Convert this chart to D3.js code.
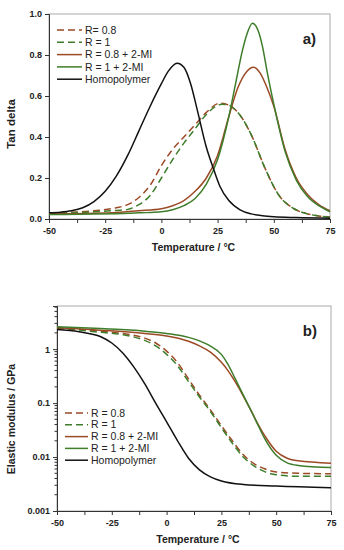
<!DOCTYPE html>
<html>
<head>
<meta charset="utf-8">
<script src="https://cdn.jsdelivr.net/npm/d3@7"></script>
<style>
  body { margin: 0; background: #fff; }
  svg { font-family: Arial, "Liberation Sans", sans-serif; }
</style>
</head>
<body>
<svg id="chart" width="344" height="550"></svg>
<script>
// ---- data ----
const names = ['R= 0.8', 'R = 1', 'R = 0.8 + 2-MI', 'R = 1 + 2-MI', 'Homopolymer'];
const namesB = ['R = 0.8', 'R = 1', 'R = 0.8 + 2-MI', 'R = 1 + 2-MI', 'Homopolymer'];
const xTicks = [-50, -25, 0, 25, 50, 75];
const tanTicks = [0.0, 0.2, 0.4, 0.6, 0.8, 1.0];
const modTicks = [0.001, 0.01, 0.1, 1];

// panel a) tan delta
const tanR08T = [-50, -40, -30, -20, -15, -10, -5, 0, 5, 10, 15, 20, 26, 30, 34, 40, 46, 52, 59, 65, 70, 75];
const tanR08 = [0.03, 0.033, 0.04, 0.055, 0.07, 0.105, 0.165, 0.26, 0.34, 0.4, 0.46, 0.52, 0.565, 0.555, 0.52, 0.41, 0.25, 0.12, 0.05, 0.025, 0.015, 0.01];
const tanR1T = [-50, -40, -30, -20, -15, -10, -5, 0, 5, 10, 15, 20, 27, 30, 34, 40, 46, 52, 59, 65, 70, 75];
const tanR1 = [0.028, 0.03, 0.035, 0.042, 0.047, 0.07, 0.115, 0.2, 0.29, 0.37, 0.44, 0.51, 0.56, 0.555, 0.52, 0.41, 0.25, 0.12, 0.05, 0.025, 0.015, 0.01];
const tanR08MIT = [-50, -30, -20, -10, 0, 5, 10, 15, 20, 25, 30, 34, 38, 41, 44, 47, 50, 55, 60, 65, 70, 75];
const tanR08MI = [0.025, 0.028, 0.032, 0.04, 0.05, 0.065, 0.09, 0.135, 0.2, 0.31, 0.5, 0.64, 0.72, 0.74, 0.71, 0.64, 0.55, 0.34, 0.2, 0.12, 0.07, 0.04];
const tanR1MIT = [-50, -30, -20, -10, 0, 5, 10, 15, 20, 25, 30, 33, 36, 38, 40.5, 43, 45, 47, 50, 55, 60, 65, 70, 75];
const tanR1MI = [0.022, 0.024, 0.026, 0.03, 0.035, 0.045, 0.065, 0.1, 0.17, 0.29, 0.5, 0.66, 0.82, 0.9, 0.955, 0.92, 0.84, 0.72, 0.56, 0.33, 0.19, 0.11, 0.065, 0.035];
const tanHomoT = [-50, -45, -40, -35, -30, -25, -20, -15, -10, -5, 0, 3, 7, 10, 13, 16, 20, 23, 26, 30, 35, 40, 45, 50, 60, 75];
const tanHomo = [0.03, 0.033, 0.04, 0.055, 0.085, 0.135, 0.21, 0.31, 0.43, 0.55, 0.66, 0.72, 0.76, 0.74, 0.66, 0.53, 0.35, 0.25, 0.16, 0.09, 0.045, 0.025, 0.016, 0.011, 0.007, 0.004];

// panel b) elastic modulus (GPa)
const modDashT = [-50, -40, -30, -20, -10, -5, 0, 5, 10, 15, 20, 25, 30, 35, 40, 45, 50, 60, 75];
const modR08 = [2.5, 2.3, 2.15, 1.95, 1.6, 1.3, 0.92, 0.56, 0.28, 0.14, 0.075, 0.038, 0.02, 0.011, 0.0075, 0.006, 0.0053, 0.005, 0.0049];
const modR1 = [2.45, 2.25, 2.05, 1.85, 1.45, 1.15, 0.8, 0.49, 0.25, 0.13, 0.07, 0.035, 0.018, 0.01, 0.0068, 0.0053, 0.0047, 0.0044, 0.0044];
const modSolidT = [-50, -30, -10, 0, 10, 15, 20, 25, 28, 31, 35, 38, 41, 45, 50, 55, 60, 75];
const modR08MI = [2.5, 2.25, 1.95, 1.75, 1.4, 1.15, 0.88, 0.57, 0.4, 0.26, 0.135, 0.08, 0.046, 0.024, 0.0128, 0.0095, 0.0085, 0.0077];
const modR1MI = [2.6, 2.4, 2.15, 1.95, 1.65, 1.42, 1.14, 0.8, 0.52, 0.3, 0.14, 0.08, 0.045, 0.021, 0.0108, 0.0078, 0.007, 0.0064];
const modHomoT = [-50, -40, -30, -25, -20, -15, -10, -5, 0, 5, 10, 15, 20, 25, 35, 50, 75];
const modHomo = [2.3, 2.1, 1.7, 1.3, 0.85, 0.47, 0.23, 0.1, 0.045, 0.02, 0.0095, 0.0058, 0.0043, 0.0036, 0.0031, 0.0029, 0.0027];

const brown = '#9c4a26', green = '#3e7d2a', black = '#111';
const styles = [
  { color: brown, dash: '7,4' },
  { color: green, dash: '7,4' },
  { color: brown, dash: null },
  { color: green, dash: null },
  { color: black, dash: null }
];

const svg = d3.select('#chart');

function zip(ts, vs) { return ts.map((t, i) => [t, vs[i]]); }

function drawPanel(opt) {
  const x = d3.scaleLinear().domain([-50, 75]).range([opt.left, opt.right]);
  const y = opt.y;
  const g = svg.append('g');

  // frame
  g.append('rect')
    .attr('x', opt.left).attr('y', opt.top)
    .attr('width', opt.right - opt.left).attr('height', opt.bottom - opt.top)
    .attr('fill', 'none').attr('stroke', '#aaa').attr('stroke-width', 1);

  // x axis
  const xa = g.append('g').attr('transform', 'translate(0,' + opt.bottom + ')')
    .call(d3.axisBottom(x).tickValues(d3.range(-50, 76, 12.5)).tickSize(4).tickFormat(d => xTicks.includes(d) ? d : ''));
  xa.select('.domain').attr('stroke', '#333');
  xa.selectAll('line').attr('stroke', '#333');
  xa.selectAll('text').attr('font-size', 9).attr('font-weight', 'bold').attr('fill', '#222').attr('dy', '0.9em');

  // y axis
  const ya = g.append('g').attr('transform', 'translate(' + opt.left + ',0)').call(opt.yAxis);
  ya.select('.domain').attr('stroke', '#333');
  ya.selectAll('line').attr('stroke', '#333');
  ya.selectAll('text').attr('font-size', 9).attr('font-weight', 'bold').attr('fill', '#222');

  if (opt.minor) {
    g.append('g').selectAll('line').data(opt.minor).join('line')
      .attr('x1', opt.left - 2.5).attr('x2', opt.left)
      .attr('y1', d => y(d)).attr('y2', d => y(d))
      .attr('stroke', '#333');
  }

  // titles
  g.append('text').attr('x', (opt.left + opt.right) / 2 + 4).attr('y', opt.bottom + 32)
    .attr('text-anchor', 'middle').attr('font-size', 10.5).attr('font-weight', 'bold').attr('fill', '#222')
    .text('Temperature / °C');
  g.append('text').attr('transform', 'translate(15,' + opt.ylabY + ') rotate(-90)')
    .attr('text-anchor', 'middle').attr('font-size', opt.ylabSize).attr('font-weight', 'bold').attr('fill', '#222')
    .text(opt.ylabel);
  g.append('text').attr('x', opt.right - 14).attr('y', opt.top + 30)
    .attr('text-anchor', 'end').attr('font-size', 15).attr('font-weight', 'bold').attr('fill', '#222')
    .text(opt.tag);

  // lines
  const line = d3.line().x(d => x(d[0])).y(d => y(d[1])).curve(d3.curveMonotoneX);
  opt.series.forEach((s, i) => {
    g.append('path').datum(s)
      .attr('d', line).attr('fill', 'none')
      .attr('stroke', styles[i].color).attr('stroke-width', 1.5)
      .attr('stroke-dasharray', styles[i].dash);
  });

  // legend
  const lg = g.append('g');
  opt.legendNames.forEach((n, i) => {
    const yy = opt.legY + i * opt.legStep;
    lg.append('line').attr('x1', opt.legX).attr('x2', opt.legX + opt.legLen)
      .attr('y1', yy).attr('y2', yy)
      .attr('stroke', styles[i].color).attr('stroke-width', 1.5)
      .attr('stroke-dasharray', styles[i].dash);
    lg.append('text').attr('x', opt.legX + opt.legLen + 3).attr('y', yy).attr('dy', '0.35em')
      .attr('font-size', 10.5).attr('fill', '#222').text(n);
  });
}

// panel a
const yTan = d3.scaleLinear().domain([0, 1]).range([219, 14]);
drawPanel({
  left: 49, right: 330, top: 14, bottom: 219,
  y: yTan,
  yAxis: d3.axisLeft(yTan).tickValues(tanTicks).tickSize(4).tickFormat(d3.format('.1f')),
  ylabel: 'Tan delta', ylabY: 124, ylabSize: 11.5, tag: 'a)',
  series: [zip(tanR08T, tanR08), zip(tanR1T, tanR1), zip(tanR08MIT, tanR08MI), zip(tanR1MIT, tanR1MI), zip(tanHomoT, tanHomo)],
  legendNames: names, legX: 57, legY: 30, legStep: 12.3, legLen: 25
});

// panel b
const yMod = d3.scaleLog().domain([0.001, 6.3]).range([511, 306]);
const minorTicks = [];
[0.001, 0.01, 0.1, 1].forEach(b => { for (let k = 2; k <= 9; k++) { if (b * k <= 6.3) minorTicks.push(b * k); } });
drawPanel({
  left: 57, right: 331, top: 306, bottom: 511,
  y: yMod,
  yAxis: d3.axisLeft(yMod).tickValues(modTicks).tickSize(4).tickFormat(d => d >= 1 ? d3.format('d')(d) : String(d)),
  minor: minorTicks,
  ylabel: 'Elastic modulus / GPa', ylabY: 419, ylabSize: 10.5, tag: 'b)',
  series: [zip(modDashT, modR08), zip(modDashT, modR1), zip(modSolidT, modR08MI), zip(modSolidT, modR1MI), zip(modHomoT, modHomo)],
  legendNames: namesB, legX: 65, legY: 413, legStep: 11.8, legLen: 23
});
</script>
</body>
</html>
